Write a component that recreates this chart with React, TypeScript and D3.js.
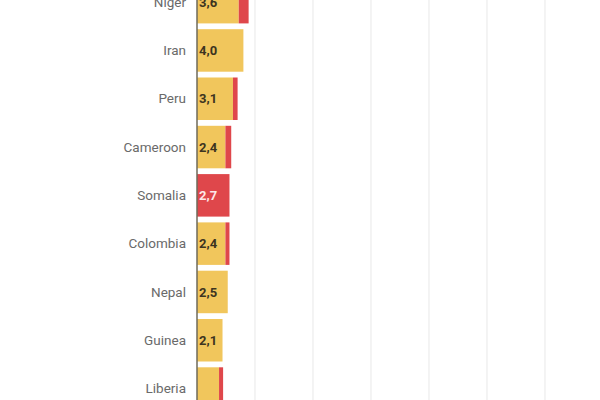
import { useEffect, useRef } from 'react';
import * as d3 from 'd3';

// countries in display order (chart is cropped at top and bottom)
const countries = ['Niger', 'Iran', 'Peru', 'Cameroon', 'Somalia', 'Colombia', 'Nepal', 'Guinea', 'Liberia'];
// first segment value (labelled)
const baseValues = [3.6, 4.0, 3.1, 2.45, 2.8, 2.45, 2.65, 2.2, 1.9];
// extra red segment
const extraValues = [0.85, 0, 0.4, 0.5, 0, 0.35, 0, 0, 0.35];
// labels shown inside bars (Liberia has none visible)
const valueLabels = ['3,6', '4,0', '3,1', '2,4', '2,7', '2,4', '2,5', '2,1', ''];
const highlighted = ['Somalia'];
const gridTicks = [5, 10, 15, 20, 25, 30, 35];

const YELLOW = '#f1c65c';
const RED = '#df474b';

export default function App() {
  const ref = useRef<SVGSVGElement>(null);

  useEffect(() => {
    if (!ref.current) return;
    const svg = d3.select(ref.current);
    svg.selectAll('*').remove();

    const W = 600, H = 400;
    const x = d3.scaleLinear().domain([0, 35]).range([197, 603]);
    const y = d3.scaleBand<string>().domain(countries)
      .range([-22, -22 + 48.3 * countries.length])
      .paddingInner(0.12).paddingOuter(0.06);

    svg.append('rect').attr('width', W).attr('height', H).attr('fill', '#fff');

    // gridlines
    svg.append('g').selectAll('line').data(gridTicks).enter().append('line')
      .attr('x1', d => x(d)).attr('x2', d => x(d))
      .attr('y1', 0).attr('y2', H)
      .attr('stroke', '#ececec').attr('stroke-width', 1.2);

    const rows = countries.map((c, i) => ({
      c, base: baseValues[i], extra: extraValues[i], label: valueLabels[i],
      hl: highlighted.includes(c),
    }));

    const bars = svg.append('g');
    bars.selectAll('.base').data(rows).enter().append('rect')
      .attr('x', x(0)).attr('y', d => y(d.c)!)
      .attr('width', d => x(d.base) - x(0)).attr('height', y.bandwidth())
      .attr('fill', d => d.hl ? RED : YELLOW);
    bars.selectAll('.extra').data(rows.filter(d => d.extra > 0)).enter().append('rect')
      .attr('x', d => x(d.base)).attr('y', d => y(d.c)!)
      .attr('width', d => x(d.base + d.extra) - x(d.base)).attr('height', y.bandwidth())
      .attr('fill', RED);

    // value labels
    svg.append('g').selectAll('text').data(rows.filter(d => d.label)).enter().append('text')
      .attr('x', x(0) + 2).attr('y', d => y(d.c)! + y.bandwidth() / 2)
      .attr('dy', '0.35em')
      .attr('font-family', 'Roboto, sans-serif').attr('font-size', '13px').attr('font-weight', '700')
      .attr('fill', d => d.hl ? '#fde8e8' : '#3d3420')
      .text(d => d.label);

    // country labels
    svg.append('g').selectAll('text').data(rows).enter().append('text')
      .attr('x', 186).attr('y', d => y(d.c)! + y.bandwidth() / 2)
      .attr('dy', '0.35em').attr('text-anchor', 'end')
      .attr('font-family', 'Roboto, sans-serif').attr('font-size', '13.5px')
      .attr('fill', '#6a6a6a')
      .text(d => d.c);

    // baseline
    svg.append('line').attr('x1', x(0)).attr('x2', x(0)).attr('y1', 0).attr('y2', H)
      .attr('stroke', '#6e6a5a').attr('stroke-width', 1.5);
  }, []);

  return (
    <svg ref={ref} width={600} height={400}
      style={{ position: 'absolute', left: 0, top: 0, display: 'block' }} />
  );
}
